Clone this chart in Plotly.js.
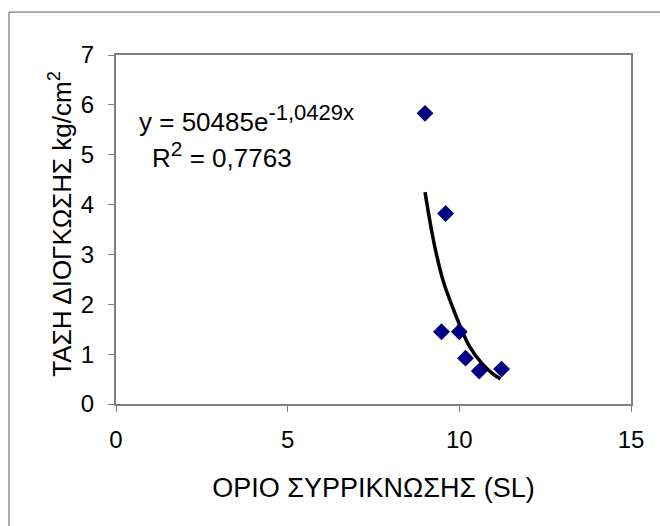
<!DOCTYPE html>
<html>
<head>
<meta charset="utf-8">
<script src="https://cdn.plot.ly/plotly-3.0.1.min.js"></script>
<style>html,body{margin:0;padding:0;background:#fff;}#chart{width:660px;height:526px;}</style>
</head>
<body>
<div id="chart"></div>
<script>
// Measured points: shrinkage limit (SL) vs swelling pressure (kg/cm2)
const shrinkageLimit = [9.0, 9.6, 9.48, 10.0, 10.18, 10.58, 11.23];
const swellPressure  = [5.83, 3.82, 1.45, 1.45, 0.92, 0.66, 0.70];

// Exponential trendline as drawn in the picture
const trendX = [9.0, 9.2, 9.35, 9.55, 9.8, 10.05, 10.3, 10.65, 10.95, 11.2];
const trendY = [4.25, 3.45, 2.95, 2.42, 1.95, 1.52, 1.15, 0.82, 0.62, 0.50];

const xTicks = [0, 5, 10, 15];
const yTicks = [0, 1, 2, 3, 4, 5, 6, 7];

const eqText = 'y = 50485e<sup><span style="font-size:22px">-1,0429x</span></sup>';
const r2Text = 'R<sup><span style="font-size:21px">2</span></sup> = 0,7763';
const xTitle = 'ΟΡΙΟ ΣΥΡΡΙΚΝΩΣΗΣ (SL)';
const yTitle = 'ΤΑΣΗ ΔΙΟΓΚΩΣΗΣ kg/cm<sup>2</sup>';

const font = 'Liberation Sans, Arial, sans-serif';

const traces = [
  {
    x: trendX, y: trendY, type: 'scatter', mode: 'lines',
    line: {color: '#000000', width: 3.5, shape: 'spline'},
    hoverinfo: 'skip'
  },
  {
    x: shrinkageLimit, y: swellPressure, type: 'scatter', mode: 'markers',
    marker: {symbol: 'diamond', color: '#000080', size: 13, line: {width: 0}}
  }
];

const layout = {
  width: 660, height: 526,
  margin: {l: 116, r: 29, t: 55, b: 122},
  paper_bgcolor: '#ffffff', plot_bgcolor: '#ffffff',
  showlegend: false,
  font: {family: font, color: '#000000', size: 24},
  xaxis: {
    range: [0, 15], tickvals: xTicks, ticktext: xTicks.map(String),
    showgrid: false, zeroline: false,
    showline: true, linecolor: '#808080', linewidth: 2, mirror: true,
    ticks: 'outside', ticklen: 6, tickcolor: '#808080', tickwidth: 1,
    ticklabelstandoff: 7,
    tickfont: {family: font, size: 24, color: '#000'},
    title: {text: xTitle, font: {family: font, size: 27, color: '#000'}, standoff: 26}
  },
  yaxis: {
    range: [0, 7], tickvals: yTicks, ticktext: yTicks.map(String),
    showgrid: false, zeroline: false,
    showline: true, linecolor: '#808080', linewidth: 2, mirror: true,
    ticks: 'outside', ticklen: 6, tickcolor: '#808080', tickwidth: 1,
    ticklabelstandoff: 9,
    tickfont: {family: font, size: 24, color: '#000'}
  },
  annotations: [
    {x: -0.108, y: 0.515, xref: 'paper', yref: 'paper', text: yTitle, showarrow: false,
     textangle: -90, xanchor: 'center', yanchor: 'middle',
     font: {family: font, size: 26, color: '#000'}},
    {x: 0.6, y: 5.72, xref: 'x', yref: 'y', text: eqText, showarrow: false,
     xanchor: 'left', yanchor: 'middle', font: {family: font, size: 26, color: '#000'}},
    {x: 0.98, y: 5.0, xref: 'x', yref: 'y', text: r2Text, showarrow: false,
     xanchor: 'left', yanchor: 'middle', font: {family: font, size: 26, color: '#000'}}
  ],
  shapes: [
    {type: 'line', xref: 'paper', yref: 'paper', x0: -0.2078, x1: 1.1, y0: 1.123, y1: 1.123,
     line: {color: '#606060', width: 1}},
    {type: 'line', xref: 'paper', yref: 'paper', x0: -0.2078, x1: -0.2078, y0: 1.123, y1: -0.4,
     line: {color: '#606060', width: 1}}
  ]
};

Plotly.newPlot('chart', traces, layout, {displayModeBar: false, staticPlot: true});
</script>
</body>
</html>
